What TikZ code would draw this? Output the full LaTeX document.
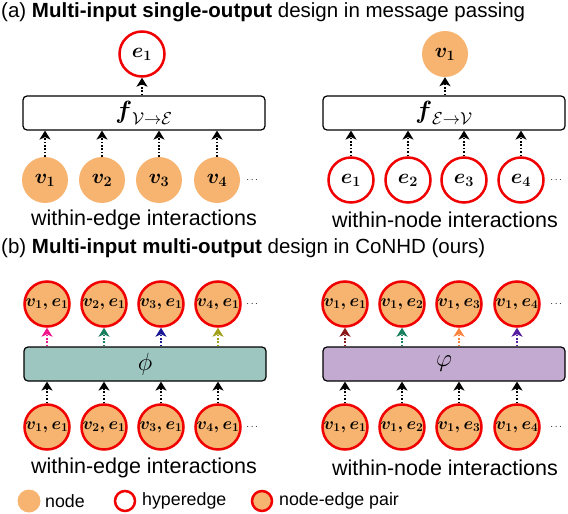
\documentclass[tikz,border=0pt]{standalone}
\usepackage{amsmath}
\usepackage{amssymb}
\usepackage{fontspec}
\setmainfont{Liberation Sans}
\usepackage{tikz}
\usepackage{xcolor}
\usetikzlibrary{calc,arrows.meta}

\definecolor{nodeorange}{RGB}{247,180,112}
\definecolor{edgered}{RGB}{240,0,0}
\definecolor{phiteal}{RGB}{156,198,191}
\definecolor{psipurple}{RGB}{195,170,208}
\definecolor{cpink}{RGB}{240,20,140}
\definecolor{cgreen}{RGB}{25,128,95}
\definecolor{cnavy}{RGB}{25,25,150}
\definecolor{colive}{RGB}{160,160,25}
\definecolor{cdarkred}{RGB}{140,25,25}
\definecolor{corange}{RGB}{250,130,60}
\definecolor{cpurple}{RGB}{85,30,160}

\begin{document}
\begin{tikzpicture}[x=1pt,y=-1pt]
        \tikzstyle{every node}=[inner sep=0pt]
        \tikzstyle{vtx}=[circle,minimum size=46pt,fill=nodeorange,font=\fontsize{21}{21}\selectfont]
        \tikzstyle{hedge}=[circle,minimum size=45pt,draw=edgered,line width=2.5pt,fill=white,font=\fontsize{21}{21}\selectfont]
        \tikzstyle{pair}=[circle,minimum size=45pt,draw=edgered,line width=2.5pt,fill=nodeorange,font=\fontsize{16.5}{17}\selectfont]
        \tikzstyle{fbox}=[draw,rounded corners=4pt,line width=1.2pt,minimum width=242pt,minimum height=34pt,font=\fontsize{23}{23}\selectfont]
        \tikzstyle{msg}=[line width=1.7pt,dash pattern=on 1.7pt off 1.7pt,-{Stealth[length=9pt,width=11pt,inset=2.5pt]}]
        \tikzstyle{lbl}=[font=\fontsize{21.5}{22}\selectfont]
        \tikzstyle{ttl}=[anchor=west,font=\fontsize{20.5}{22}\selectfont]
        \tikzstyle{lgd}=[anchor=west,font=\fontsize{17.8}{18}\selectfont]

        \useasboundingbox (0,0) rectangle (568,514);

        % (a) message passing
        \node[ttl] (ta) at (1,12) {(a) \textbf{Multi-input single-output} design in message passing};

        \node[fbox] (fa) at (144,113) {$\boldsymbol{f}_{\mathcal{V}\rightarrow\mathcal{E}}$};
        \node[hedge] (ea) at (142,54) {$\boldsymbol{e_1}$};
        \foreach \i/\x in {1/45,2/102,3/159,4/217} {
            \node[vtx] (va\i) at (\x,180) {$\boldsymbol{v_\i}$};
            \draw[msg] (va\i) -- (va\i |- fa.south);
        }
        \node (da) at (253,180) {$\cdots$};
        \draw[msg] (fa.north -| ea) -- (ea);
        \node[lbl] (la) at (144,220) {within-edge interactions};

        \node[fbox] (fb) at (444,113) {$\boldsymbol{f}_{\mathcal{E}\rightarrow\mathcal{V}}$};
        \node[vtx] (vb) at (445,54) {$\boldsymbol{v_1}$};
        \foreach \i/\x in {1/351,2/408,3/464,4/521} {
            \node[hedge] (eb\i) at (\x,180) {$\boldsymbol{e_\i}$};
            \draw[msg] (eb\i) -- (eb\i |- fb.south);
        }
        \node (db) at (557,180) {$\cdots$};
        \draw[msg] (fb.north -| vb) -- (vb);
        \node[lbl] (lb) at (445,220) {within-node interactions};

        % (b) CoNHD
        \node[ttl] (tb) at (1,248) {(b) \textbf{Multi-input multi-output} design in CoNHD (ours)};

        \node[fbox,fill=phiteal] (phi) at (145,364) {$\phi$};
        \foreach \i/\x/\c in {1/47/cpink,2/104/cgreen,3/161/cnavy,4/218/colive} {
            \node[pair] (pa\i) at (\x,427) {$\boldsymbol{v_\i,e_1}$};
            \node[pair] (qa\i) at (\x,304) {$\boldsymbol{v_\i,e_1}$};
            \draw[msg] (pa\i) -- (pa\i |- phi.south);
            \draw[msg,\c] (qa\i |- phi.north) -- (qa\i);
        }
        \node (dc) at (253,427) {$\cdots$};
        \node (dd) at (253,304) {$\cdots$};
        \node[lbl] (lc) at (144,468) {within-edge interactions};

        \node[fbox,fill=psipurple] (psi) at (444,364) {$\varphi$};
        \foreach \i/\x/\c in {1/345/cdarkred,2/402/cgreen,3/459/corange,4/517/cpurple} {
            \node[pair] (pb\i) at (\x,427) {$\boldsymbol{v_1,e_\i}$};
            \node[pair] (qb\i) at (\x,304) {$\boldsymbol{v_1,e_\i}$};
            \draw[msg] (pb\i) -- (pb\i |- psi.south);
            \draw[msg,\c] (qb\i |- psi.north) -- (qb\i);
        }
        \node (de) at (557,427) {$\cdots$};
        \node (df) at (557,304) {$\cdots$};
        \node[lbl] (ld) at (445,468) {within-node interactions};

        % legend
        \node[vtx,minimum size=23pt] (k1) at (29,501) {};
        \node[lgd] (n1) at (45,501) {node};
        \node[hedge,minimum size=20pt] (k2) at (125,501) {};
        \node[lgd] (n2) at (142,501) {hyperedge};
        \node[pair,minimum size=20pt] (k3) at (262,501) {};
        \node[lgd] (n3) at (279,501) {node-edge pair};
\end{tikzpicture}
\end{document}
